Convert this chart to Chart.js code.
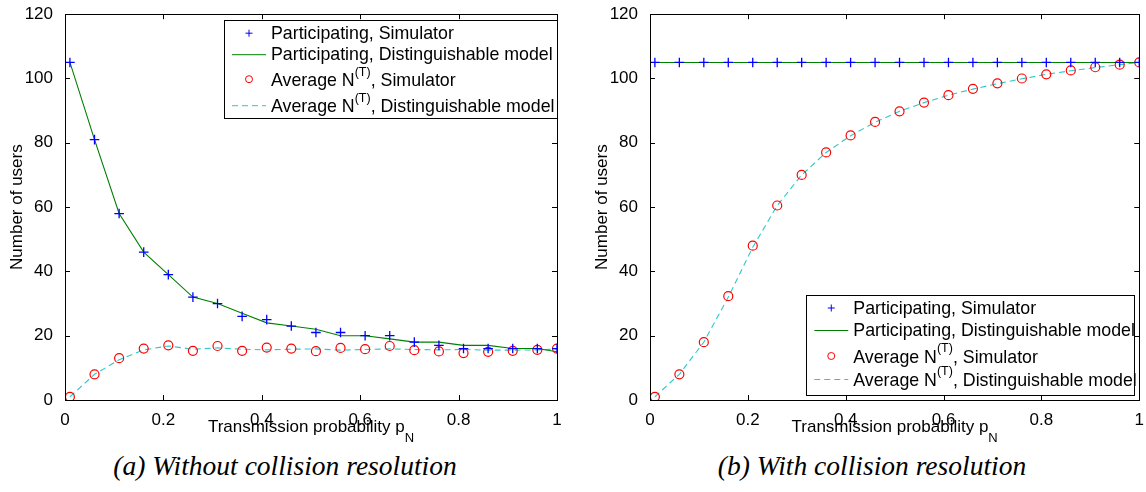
<!DOCTYPE html>
<html>
<head>
<meta charset="utf-8">
<script src="https://cdn.jsdelivr.net/npm/chart.js@4/dist/chart.umd.min.js"></script>
<style>
  body { margin: 0; background: #fff; width: 1146px; height: 492px; position: relative; overflow: hidden; }
  .plot { position: absolute; top: 0; }
  .caption {
    position: absolute; top: 450px; width: 560px; text-align: center; line-height: 32px;
    font-family: "Liberation Serif", serif; font-style: italic; font-size: 27.5px; color: #000;
  }
</style>
</head>
<body>
<div class="plot" style="left:0px;width:575px;height:445px"><canvas id="chartA"></canvas></div>
<div class="plot" style="left:585px;width:561px;height:445px"><canvas id="chartB"></canvas></div>
<div class="caption" style="left:5px">(a) Without collision resolution</div>
<div class="caption" style="left:592px">(b) With collision resolution</div>

<script>
// transmission probability p_N (x values)
const pN = [0.01, 0.06, 0.11, 0.16, 0.21, 0.26, 0.31, 0.36, 0.41, 0.46, 0.51,
            0.56, 0.61, 0.66, 0.71, 0.76, 0.81, 0.86, 0.91, 0.96, 1.0];

// (a) without collision resolution
const partSimA   = [105, 81, 58, 46, 39, 32, 30, 26, 25, 23, 21, 21, 20, 20, 18, 17, 16, 16, 16, 16, 16];
const partModelA = [105, 81, 58, 46, 39, 32, 30, 27, 24, 23, 22, 20, 20, 19, 18, 18, 17, 17, 16, 16, 15];
const avgSimA    = [1, 8, 13, 16, 17, 15.3, 16.8, 15.3, 16.3, 16, 15.2, 16.2, 15.8, 16.8, 15.5, 15.1, 14.6, 15, 15.3, 15.6, 16];
const avgModelA  = [1, 8, 12.5, 15.6, 16.8, 15.8, 16.2, 15.8, 15.6, 15.8, 15.9, 15.5, 15.7, 15.9, 15.7, 15.6, 15.7, 15.5, 15.5, 15.6, 15.8];

// (b) with collision resolution
const partSimB   = [105, 105, 105, 105, 105, 105, 105, 105, 105, 105, 105, 105, 105, 105, 105, 105, 105, 105, 105, 105, 105];
const partModelB = [105, 105, 105, 105, 105, 105, 105, 105, 105, 105, 105, 105, 105, 105, 105, 105, 105, 105, 105, 105, 105];
const avgSimB    = [1, 8, 18, 32.3, 48, 60.5, 70, 77, 82.3, 86.5, 89.8, 92.5, 94.8, 96.8, 98.5, 100, 101.3, 102.5, 103.5, 104.3, 105];
const avgModelB  = [1, 8, 18, 32, 47.5, 60.5, 70, 77, 82.2, 86.4, 89.8, 92.5, 94.8, 96.7, 98.4, 99.9, 101.3, 102.4, 103.4, 104.3, 105];

const xTicks = [0, 0.2, 0.4, 0.6, 0.8, 1];
const yTicks = [0, 20, 40, 60, 80, 100, 120];

const legendEntries = [
  { kind: 'plus',   pre: 'Participating, Simulator' },
  { kind: 'line',   pre: 'Participating, Distinguishable model' },
  { kind: 'circle', pre: 'Average N', sup: '(T)', post: ', Simulator' },
  { kind: 'dash',   pre: 'Average N', sup: '(T)', post: ', Distinguishable model' }
];

const BLUE = '#0000ff', GREEN = '#008000', RED = '#ff0000', CYAN = '#2cc8c8';
const FONT = '"Liberation Sans", Arial, sans-serif';

Chart.defaults.color = '#000';
Chart.defaults.font.family = FONT;

const pts = ys => pN.map((x, i) => ({ x: x, y: ys[i] }));

// MATLAB-like frame with inward ticks, subscripted x title and boxed legend
const matlabPlugin = {
  id: 'matlab',
  afterDraw(chart, args, opts) {
    const ctx = chart.ctx;
    const a = chart.chartArea;
    const xs = chart.scales.x, ys = chart.scales.y;
    ctx.save();
    ctx.strokeStyle = '#000';
    ctx.lineWidth = 1;
    ctx.strokeRect(Math.round(a.left) + 0.5, Math.round(a.top) + 0.5,
                   Math.round(a.right - a.left), Math.round(a.bottom - a.top));
    ctx.beginPath();
    xTicks.forEach(v => {
      const px = Math.round(xs.getPixelForValue(v)) + 0.5;
      ctx.moveTo(px, a.bottom); ctx.lineTo(px, a.bottom - 5);
      ctx.moveTo(px, a.top); ctx.lineTo(px, a.top + 5);
    });
    yTicks.forEach(v => {
      const py = Math.round(ys.getPixelForValue(v)) + 0.5;
      ctx.moveTo(a.left, py); ctx.lineTo(a.left + 5, py);
      ctx.moveTo(a.right, py); ctx.lineTo(a.right - 5, py);
    });
    ctx.stroke();

    // x axis title with subscript N
    const main = 'Transmission probability p';
    ctx.font = '17px ' + FONT;
    const w1 = ctx.measureText(main).width;
    ctx.font = '13px ' + FONT;
    const w2 = ctx.measureText('N').width;
    const cx = (a.left + a.right) / 2;
    let tx = cx - (w1 + w2) / 2;
    ctx.fillStyle = '#000';
    ctx.textBaseline = 'alphabetic';
    ctx.textAlign = 'left';
    ctx.font = '17px ' + FONT;
    ctx.fillText(main, tx, a.bottom + 32);
    ctx.font = '13px ' + FONT;
    ctx.fillText('N', tx + w1, a.bottom + 42);

    // legend box
    const L = opts.box;
    const bx = a.right - L.right - L.w;
    const by = opts.anchor === 'top' ? a.top + L.offY : a.bottom - L.offY - L.h;
    ctx.fillStyle = '#fff';
    ctx.fillRect(Math.round(bx) + 0.5, Math.round(by) + 0.5, L.w, L.h);
    ctx.strokeStyle = '#000';
    ctx.strokeRect(Math.round(bx) + 0.5, Math.round(by) + 0.5, L.w, L.h);
    legendEntries.forEach((e, i) => {
      const ry = by + L.rows[i];
      const mx = bx + 25;
      ctx.lineWidth = 1;
      if (e.kind === 'plus') {
        ctx.strokeStyle = BLUE;
        ctx.beginPath();
        ctx.moveTo(mx - 3.5, ry); ctx.lineTo(mx + 3.5, ry);
        ctx.moveTo(mx, ry - 3.5); ctx.lineTo(mx, ry + 3.5);
        ctx.stroke();
      } else if (e.kind === 'circle') {
        ctx.strokeStyle = RED;
        ctx.beginPath();
        ctx.arc(mx, ry, 3.5, 0, Math.PI * 2);
        ctx.stroke();
      } else {
        ctx.strokeStyle = e.kind === 'line' ? GREEN : CYAN;
        ctx.setLineDash(e.kind === 'dash' ? [6, 4] : []);
        ctx.beginPath();
        ctx.moveTo(bx + 8, ry + 0.5); ctx.lineTo(bx + 42, ry + 0.5);
        ctx.stroke();
        ctx.setLineDash([]);
      }
      ctx.fillStyle = '#000';
      ctx.textBaseline = 'middle';
      let x = bx + 47;
      const ty = e.sup ? ry + 2 : ry + 1;
      ctx.font = '17.8px ' + FONT;
      ctx.fillText(e.pre, x, ty);
      x += ctx.measureText(e.pre).width;
      if (e.sup) {
        ctx.font = '12.5px ' + FONT;
        ctx.fillText(e.sup, x, ty - 9);
        x += ctx.measureText(e.sup).width;
        ctx.font = '17.8px ' + FONT;
        ctx.fillText(e.post, x, ty);
      }
    });
    ctx.restore();
  }
};

function makeChart(id, sim1, mod1, sim2, mod2, legendOpts, padRight) {
  return new Chart(document.getElementById(id), {
    type: 'scatter',
    data: {
      datasets: [
        { label: 'Participating, Simulator', data: pts(sim1), showLine: false,
          pointStyle: 'cross', pointRadius: 4.8, borderColor: BLUE, borderWidth: 1.3, order: 1 },
        { label: 'Participating, Distinguishable model', data: pts(mod1), showLine: true,
          pointRadius: 0, borderColor: GREEN, borderWidth: 1.1, order: 2 },
        { label: 'Average N(T), Simulator', data: pts(sim2), showLine: false,
          pointStyle: 'circle', pointRadius: 4.5, borderColor: RED, backgroundColor: 'rgba(0,0,0,0)',
          borderWidth: 1.2, order: 3 },
        { label: 'Average N(T), Distinguishable model', data: pts(mod2), showLine: true,
          pointRadius: 0, borderColor: CYAN, borderWidth: 1.1, borderDash: [6, 4], order: 4 }
      ]
    },
    options: {
      responsive: true,
      maintainAspectRatio: false,
      animation: false,
      layout: { padding: { left: 0, right: padRight, top: 10, bottom: 0 } },
      scales: {
        x: {
          type: 'linear', min: 0, max: 1,
          grid: { display: false },
          border: { display: false },
          afterBuildTicks: s => { s.ticks = xTicks.map(v => ({ value: v })); },
          afterFit: s => { s.height = 45; },
          ticks: { font: { size: 17 }, padding: 2, maxRotation: 0,
                   callback: v => String(v) }
        },
        y: {
          min: 0, max: 120,
          grid: { display: false },
          border: { display: false },
          afterBuildTicks: s => { s.ticks = yTicks.map(v => ({ value: v })); },
          afterFit: s => { s.width = 65; },
          ticks: { font: { size: 17 }, padding: 4 },
          title: { display: true, text: 'Number of users', font: { size: 17 }, padding: { top: 7, bottom: 0 } }
        }
      },
      plugins: {
        legend: { display: false },
        tooltip: { enabled: false },
        matlab: legendOpts
      }
    },
    plugins: [matlabPlugin]
  });
}

makeChart('chartA', partSimA, partModelA, avgSimA, avgModelA,
  { anchor: 'top', box: { w: 333, h: 98, right: 0, offY: 6, rows: [13, 34, 59, 85] } }, 18);
makeChart('chartB', partSimB, partModelB, avgSimB, avgModelB,
  { anchor: 'bottom', box: { w: 328, h: 100, right: 5, offY: 5, rows: [13, 35, 61, 84] } }, 4);
</script>
</body>
</html>
